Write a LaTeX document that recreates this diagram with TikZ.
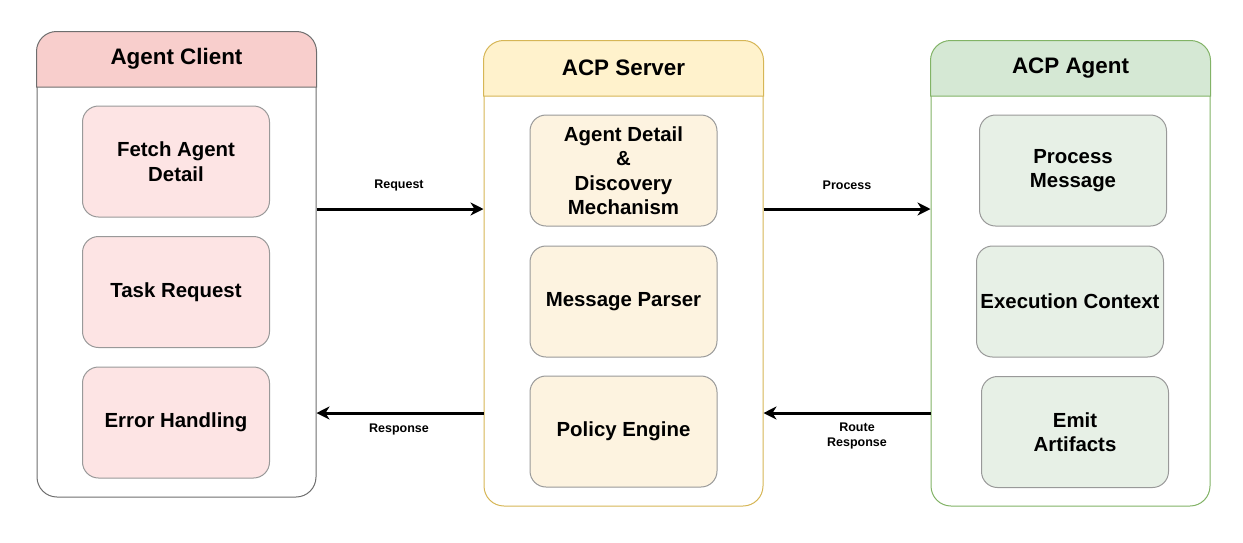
\documentclass[tikz,border=0pt]{standalone}
\usepackage{fontspec}
\setmainfont{Liberation Sans}
\usetikzlibrary{arrows.meta,calc}
\definecolor{cHead}{HTML}{F8CECC}
\definecolor{cLine}{HTML}{6E6E6E}
\definecolor{cIn}{HTML}{FDE4E4}
\definecolor{sHead}{HTML}{FFF2CC}
\definecolor{sLine}{HTML}{D6B656}
\definecolor{sIn}{HTML}{FDF3E0}
\definecolor{aHead}{HTML}{D5E8D4}
\definecolor{aLine}{HTML}{82B366}
\definecolor{aIn}{HTML}{E7F0E6}
\definecolor{inLine}{HTML}{999999}
\tikzset{
  container/.style={draw, line width=1pt, rounded corners=20pt, fill=white, minimum width=279pt, minimum height=465pt, inner sep=0pt},
  title/.style={font=\bfseries\fontsize{22.4}{26}\selectfont, text=black},
  inbox/.style={draw=inLine, line width=1pt, rounded corners=16pt, minimum width=187pt, minimum height=111pt, align=center, font=\bfseries\fontsize{20.4}{24.5}\selectfont, inner sep=0pt},
  lbl/.style={font=\bfseries\fontsize{12.5}{15.5}\selectfont, align=center},
  arr/.style={line width=3pt, -{Stealth[length=13pt,width=13pt,inset=4pt]}},
}
\begin{document}
\begin{tikzpicture}[x=1pt,y=-1pt]
\useasboundingbox (0,0) rectangle (1243,542);
% containers
\node[container, draw=cLine] (client) at (176.5,264.5) {};
\node[container, draw=sLine] (server) at (623.5,273.5) {};
\node[container, draw=aLine] (agent) at (1070.5,273.5) {};
% headers
\path[fill=cHead, draw=cLine, line width=1pt] (client.west |- 0,87) {[rounded corners=20pt] -- (client.north west) -- (client.north east)} -- (client.east |- 0,87) -- cycle;
\path[fill=sHead, draw=sLine, line width=1pt] (server.west |- 0,96) {[rounded corners=20pt] -- (server.north west) -- (server.north east)} -- (server.east |- 0,96) -- cycle;
\path[fill=aHead, draw=aLine, line width=1pt] (agent.west |- 0,96) {[rounded corners=20pt] -- (agent.north west) -- (agent.north east)} -- (agent.east |- 0,96) -- cycle;
\node[title] (clientT) at (176.5,59) {Agent Client};
\node[title] (serverT) at (623.5,68) {ACP Server};
\node[title] (agentT) at (1070.5,68) {ACP Agent};
% inner boxes
\node[inbox, fill=cIn] (fetch) at (176,161.5) {Fetch Agent\\Detail};
\node[inbox, fill=cIn] (task) at (176,292) {Task Request};
\node[inbox, fill=cIn] (err) at (176,422.5) {Error Handling};
\node[inbox, fill=sIn] (disc) at (623.5,170.5) {Agent Detail\\\&\\Discovery\\Mechanism};
\node[inbox, fill=sIn] (parse) at (623.5,301.5) {Message Parser};
\node[inbox, fill=sIn] (policy) at (623.5,431.5) {Policy Engine};
\node[inbox, fill=aIn] (proc) at (1073,170.5) {Process\\Message};
\node[inbox, fill=aIn] (exec) at (1070,301.5) {Execution Context};
\node[inbox, fill=aIn] (emit) at (1075,432) {Emit\\Artifacts};
% connectors
\draw[arr] (client.east |- 0,209) -- (server.west |- 0,209);
\draw[arr] (server.west |- 0,413) -- (client.east |- 0,413);
\draw[arr] (server.east |- 0,209) -- (agent.west |- 0,209);
\draw[arr] (agent.west |- 0,413) -- (server.east |- 0,413);
% labels
\node[lbl] (reqL) at (399,185) {Request};
\node[lbl] (resL) at (399,429) {Response};
\node[lbl] (procL) at (847,185) {Process};
\node[lbl] (routeL) at (857,436) {Route\\Response};
\end{tikzpicture}
\end{document}
